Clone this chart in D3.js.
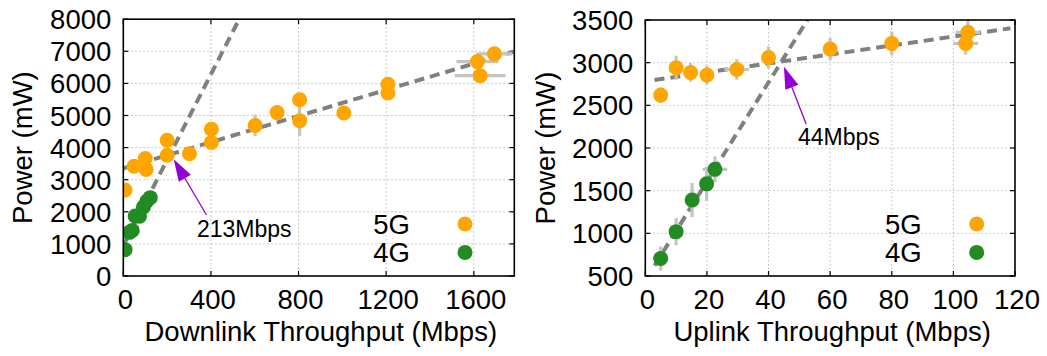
<!DOCTYPE html>
<html>
<head>
<meta charset="utf-8">
<script src="https://cdn.jsdelivr.net/npm/d3@7/dist/d3.min.js"></script>
<style>
  body { margin: 0; background: #fff; }
  svg { display: block; font-family: "Liberation Sans", Arial, sans-serif; }
  .grid line { stroke: #bdbdbd; stroke-width: 1; stroke-dasharray: 1.5 2.5; }
  .tick-mark { stroke: #000; stroke-width: 1.2; }
  .tick-label { font-size: 27.5px; fill: #000; }
  .axis-title { font-size: 27.5px; fill: #000; }
  .frame { fill: none; stroke: #000; stroke-width: 1.6; }
  .fit { fill: none; stroke: #808080; stroke-width: 4; stroke-dasharray: 10 6; }
  .err { stroke: #c4c4c4; stroke-width: 3.2; }
  .note { font-size: 23px; fill: #000; }
</style>
</head>
<body>
<svg id="chart" width="1047" height="356"></svg>
<script>
// [throughput, power, xErr, yErr]
const dl5G = [
  [8, 2680, 0, 0], [49, 3420, 0, 0], [100, 3660, 0, 0], [104, 3320, 0, 0],
  [200, 4230, 0, 0], [200, 3760, 0, 0], [302, 3810, 0, 0],
  [402, 4570, 0, 0], [402, 4160, 0, 150], [602, 4690, 0, 340],
  [702, 5090, 0, 0], [805, 5490, 0, 0], [805, 4840, 0, 470],
  [1007, 5080, 0, 0], [1208, 5970, 0, 0], [1208, 5700, 0, 0],
  [1617, 6680, 96, 0], [1629, 6240, 116, 0], [1694, 6920, 82, 0]
];
const dl4G = [
  [8, 820, 0, 0], [28, 1360, 0, 0], [41, 1420, 0, 0], [54, 1870, 0, 0],
  [74, 1860, 0, 0], [92, 2150, 0, 0], [107, 2330, 0, 0], [123, 2440, 0, 0]
];
const ul5G = [
  [5, 2620, 0, 90], [10, 2940, 0, 140], [14.7, 2885, 2, 110], [20, 2855, 0, 110],
  [29.7, 2920, 4, 120], [40, 3060, 0, 130], [60, 3160, 0, 130], [80, 3225, 0, 140],
  [104.7, 3355, 4, 150], [104, 3225, 4, 130]
];
const ul4G = [
  [5, 705, 0, 140], [10, 1020, 0, 160], [15.2, 1390, 0, 200],
  [19.9, 1580, 1.5, 200], [22.6, 1750, 4, 150]
];

// fitted dashed lines, as end points
const dlFit5G = [[0, 3355], [1785, 6990]];
const dlFit4G = [[0, 950], [529, 8000]];
const ulFit5G = [[3, 2797], [118.5, 3403]];
const ulFit4G = [[3, 621], [52.6, 3500]];

const dlXTicks = [0, 400, 800, 1200, 1600];
const dlYTicks = [0, 1000, 2000, 3000, 4000, 5000, 6000, 7000, 8000];
const ulXTicks = [0, 20, 40, 60, 80, 100, 120];
const ulYTicks = [500, 1000, 1500, 2000, 2500, 3000, 3500];

const legendLabels = ['5G', '4G'];
const colors = { '5G': '#FFA500', '4G': '#228B22' };

const svg = d3.select('#chart');
svg.append('rect').attr('width', 1047).attr('height', 356).attr('fill', '#fff');

function drawPanel(cfg) {
  const { left, right, top, bottom } = cfg.box;
  const x = d3.scaleLinear().domain(cfg.xDomain).range([left, right]);
  const y = d3.scaleLinear().domain(cfg.yDomain).range([bottom, top]);
  const g = svg.append('g');

  const clipId = 'clip-' + cfg.id;
  g.append('clipPath').attr('id', clipId)
    .append('rect').attr('x', left).attr('y', top).attr('width', right - left).attr('height', bottom - top);

  // grid
  const grid = g.append('g').attr('class', 'grid');
  grid.selectAll('line.gx').data(cfg.xTicks.filter(t => t > cfg.xDomain[0] && t < cfg.xDomain[1]))
    .enter().append('line')
    .attr('x1', d => x(d)).attr('x2', d => x(d)).attr('y1', top).attr('y2', bottom);
  grid.selectAll('line.gy').data(cfg.yTicks.filter(t => t > cfg.yDomain[0] && t < cfg.yDomain[1]))
    .enter().append('line')
    .attr('y1', d => y(d)).attr('y2', d => y(d)).attr('x1', left).attr('x2', right);

  // ticks (inside, mirrored)
  const tl = 5;
  g.selectAll('line.tx').data(cfg.xTicks).enter().append('line').attr('class', 'tick-mark')
    .attr('x1', d => x(d)).attr('x2', d => x(d)).attr('y1', bottom).attr('y2', bottom - tl);
  g.selectAll('line.tx2').data(cfg.xTicks).enter().append('line').attr('class', 'tick-mark')
    .attr('x1', d => x(d)).attr('x2', d => x(d)).attr('y1', top).attr('y2', top + tl);
  g.selectAll('line.ty').data(cfg.yTicks).enter().append('line').attr('class', 'tick-mark')
    .attr('y1', d => y(d)).attr('y2', d => y(d)).attr('x1', left).attr('x2', left + tl);
  g.selectAll('line.ty2').data(cfg.yTicks).enter().append('line').attr('class', 'tick-mark')
    .attr('y1', d => y(d)).attr('y2', d => y(d)).attr('x1', right).attr('x2', right - tl);

  // tick labels
  g.selectAll('text.xl').data(cfg.xTicks).enter().append('text').attr('class', 'tick-label')
    .attr('x', d => x(d) + 2).attr('y', bottom + 33).attr('text-anchor', 'middle').text(d => d);
  g.selectAll('text.yl').data(cfg.yTicks).enter().append('text').attr('class', 'tick-label')
    .attr('x', left - 12).attr('y', d => y(d) + 10).attr('text-anchor', 'end').text(d => d);

  // axis titles
  g.append('text').attr('class', 'axis-title').attr('text-anchor', 'middle')
    .attr('x', (left + right) / 2 + 2).attr('y', 341).text(cfg.xTitle);
  g.append('text').attr('class', 'axis-title').attr('text-anchor', 'middle')
    .attr('transform', `translate(${cfg.yTitleX},${(top + bottom) / 2}) rotate(-90)`).text(cfg.yTitle);

  const plot = g.append('g').attr('clip-path', `url(#${clipId})`);

  // fit lines
  const line = d3.line().x(d => x(d[0])).y(d => y(d[1]));
  cfg.fits.forEach(f => plot.append('path').attr('class', 'fit').attr('d', line(f)));

  // error bars then points
  cfg.series.forEach(s => {
    const eg = plot.append('g');
    eg.selectAll('line.ey').data(s.data.filter(d => d[3] > 0)).enter().append('line').attr('class', 'err')
      .attr('x1', d => x(d[0])).attr('x2', d => x(d[0]))
      .attr('y1', d => y(d[1] - d[3])).attr('y2', d => y(d[1] + d[3]));
    eg.selectAll('line.ex').data(s.data.filter(d => d[2] > 0)).enter().append('line').attr('class', 'err')
      .attr('y1', d => y(d[1])).attr('y2', d => y(d[1]))
      .attr('x1', d => x(d[0] - d[2])).attr('x2', d => x(d[0] + d[2]));
  });
  cfg.series.forEach(s => {
    plot.append('g').selectAll('circle').data(s.data).enter().append('circle')
      .attr('cx', d => x(d[0])).attr('cy', d => y(d[1])).attr('r', 7.5)
      .attr('fill', colors[s.name]);
  });

  // frame
  g.append('rect').attr('class', 'frame')
    .attr('x', left).attr('y', top).attr('width', right - left).attr('height', bottom - top);

  // legend
  legendLabels.forEach((name, i) => {
    const ly = 224 + i * 28.4;
    g.append('text').attr('class', 'tick-label').attr('text-anchor', 'end')
      .attr('x', cfg.legendX).attr('y', ly + 9.5).text(name);
    g.append('circle').attr('cx', cfg.legendX + 55).attr('cy', ly).attr('r', 7.5).attr('fill', colors[name]);
  });

  // annotation arrow
  const a = cfg.note;
  const tx = x(a.tip[0]), ty = y(a.tip[1]);
  const sx = x(a.tail[0]), sy = y(a.tail[1]);
  const ang = Math.atan2(ty - sy, tx - sx);
  const hl = 22, hw = 7;
  const bx = tx - hl * Math.cos(ang), by = ty - hl * Math.sin(ang);
  g.append('line').attr('x1', sx).attr('y1', sy).attr('x2', bx).attr('y2', by)
    .attr('stroke', '#9400D3').attr('stroke-width', 1.3);
  g.append('path').attr('fill', '#9400D3')
    .attr('d', `M${tx},${ty} L${bx + hw * Math.sin(ang)},${by - hw * Math.cos(ang)} L${bx - hw * Math.sin(ang)},${by + hw * Math.cos(ang)} Z`);
  g.append('text').attr('class', 'note').attr('x', a.textX).attr('y', a.textY).text(a.label);
}

drawPanel({
  id: 'dl',
  box: { left: 123.3, right: 514.3, top: 19.2, bottom: 276 },
  xDomain: [0, 1785], yDomain: [0, 8000],
  xTicks: dlXTicks, yTicks: dlYTicks,
  xTitle: 'Downlink Throughput (Mbps)', yTitle: 'Power (mW)', yTitleX: 31.5,
  fits: [dlFit5G, dlFit4G],
  series: [{ name: '5G', data: dl5G }, { name: '4G', data: dl4G }],
  legendX: 410,
  note: { tip: [230, 3636], tail: [380, 1900], label: '213Mbps', textX: 197, textY: 237 }
});

drawPanel({
  id: 'ul',
  box: { left: 645.3, right: 1015, top: 20, bottom: 276 },
  xDomain: [0, 120], yDomain: [500, 3500],
  xTicks: ulXTicks, yTicks: ulYTicks,
  xTitle: 'Uplink Throughput (Mbps)', yTitle: 'Power (mW)', yTitleX: 554.5,
  fits: [ulFit5G, ulFit4G],
  series: [{ name: '5G', data: ul5G }, { name: '4G', data: ul4G }],
  legendX: 921.7,
  note: { tip: [45, 2953], tail: [52.2, 2281], label: '44Mbps', textX: 798, textY: 145 }
});
</script>
</body>
</html>
